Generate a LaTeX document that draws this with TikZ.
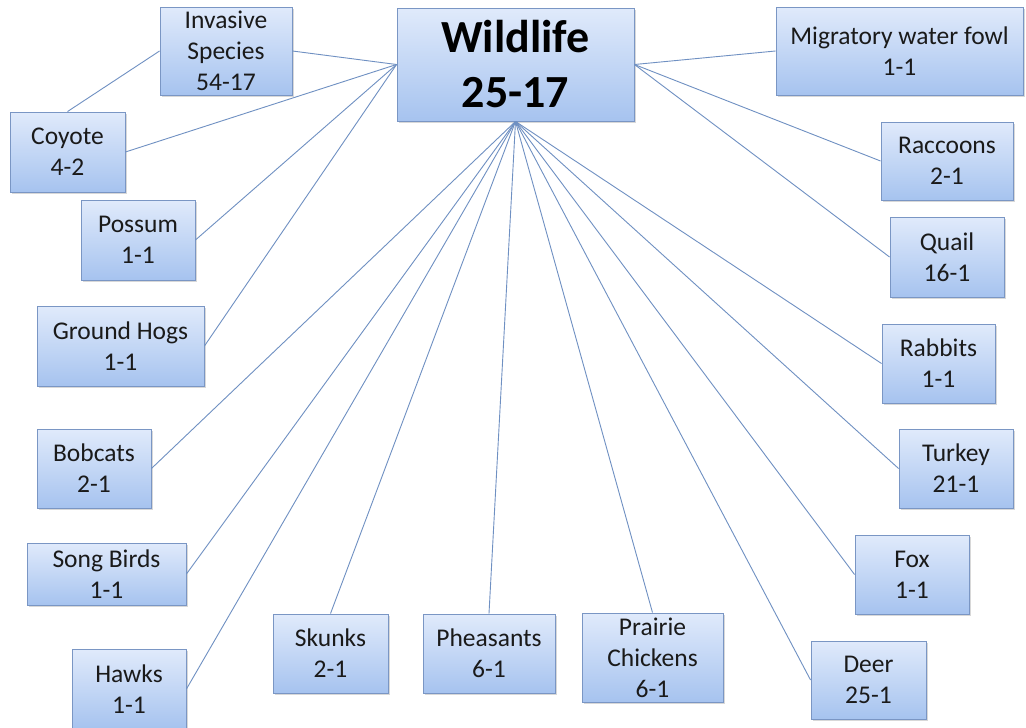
\documentclass[tikz,border=0pt]{standalone}
\usepackage{fontspec}
\setmainfont{Carlito}
\usetikzlibrary{shadows}
\definecolor{boxtop}{HTML}{E0EAFB}
\definecolor{boxbot}{HTML}{A6C3EF}
\definecolor{boxline}{HTML}{7A96C4}
\definecolor{linkcol}{HTML}{6F90C2}
\definecolor{txt}{HTML}{1A1A1A}
\tikzset{
  box/.style={draw=boxline, line width=0.9pt, top color=boxtop, bottom color=boxbot,
    align=center, inner sep=0pt, text=txt,
    font=\fontsize{25.5}{31}\selectfont,
    drop shadow={opacity=0.3, shadow xshift=1.5pt, shadow yshift=-2pt}},
  bigbox/.style={box, font=\fontsize{46}{55}\selectfont\bfseries, text=black},
  link/.style={draw=linkcol, line width=0.9pt}
}
\begin{document}
\begin{tikzpicture}[x=1pt,y=-1pt]
\useasboundingbox (0,0) rectangle (1026,728);
\fill[white] (0,0) rectangle (1026,728);
% nodes
\node[bigbox, minimum width=237, minimum height=113] (wild) at (515.5,64.5) {Wildlife\\25-17};
\node[box, minimum width=132, minimum height=88] (inv) at (226,51) {Invasive\\Species\\54-17};
\node[box, minimum width=115, minimum height=80] (coy) at (67.5,152) {Coyote\\4-2};
\node[box, minimum width=247, minimum height=88] (mig) at (899.5,51) {Migratory water fowl\\1-1};
\node[box, minimum width=114, minimum height=80] (pos) at (138,240) {Possum\\1-1};
\node[box, minimum width=167, minimum height=80] (gh) at (120.5,346) {Ground Hogs\\1-1};
\node[box, minimum width=114, minimum height=79] (bob) at (94,468.5) {Bobcats\\2-1};
\node[box, minimum width=159, minimum height=62] (song) at (106.5,574) {Song Birds\\1-1};
\node[box, minimum width=114, minimum height=80] (hawk) at (129,689) {Hawks\\1-1};
\node[box, minimum width=115, minimum height=79] (sku) at (330.5,653.5) {Skunks\\2-1};
\node[box, minimum width=132, minimum height=79] (phe) at (489,653.5) {Pheasants\\6-1};
\node[box, minimum width=141, minimum height=89] (pra) at (652.5,657.5) {Prairie\\Chickens\\6-1};
\node[box, minimum width=132, minimum height=78] (rac) at (947,161) {Raccoons\\2-1};
\node[box, minimum width=114, minimum height=80] (qua) at (947,257) {Quail\\16-1};
\node[box, minimum width=113, minimum height=79] (rab) at (938.5,363.5) {Rabbits\\1-1};
\node[box, minimum width=114, minimum height=79] (tur) at (956,468.5) {Turkey\\21-1};
\node[box, minimum width=114, minimum height=79] (fox) at (912,574.5) {Fox\\1-1};
\node[box, minimum width=115, minimum height=78] (deer) at (868.5,680) {Deer\\25-1};
% connectors
\draw[link] (wild.west) -- (inv.east);
\draw[link] (wild.west) -- (coy.east);
\draw[link] (wild.west) -- (pos.east);
\draw[link] (wild.west) -- (gh.east);
\draw[link] (coy.north) -- (inv.west);
\draw[link] (wild.east) -- (mig.west);
\draw[link] (wild.east) -- (rac.west);
\draw[link] (wild.east) -- (qua.west);
\draw[link] (wild.south) -- (bob.east);
\draw[link] (wild.south) -- (song.east);
\draw[link] (wild.south) -- (hawk.east);
\draw[link] (wild.south) -- (sku.north);
\draw[link] (wild.south) -- (phe.north);
\draw[link] (wild.south) -- (pra.north);
\draw[link] (wild.south) -- (rab.west);
\draw[link] (wild.south) -- (tur.west);
\draw[link] (wild.south) -- (fox.west);
\draw[link] (wild.south) -- (deer.west);
\end{tikzpicture}
\end{document}
